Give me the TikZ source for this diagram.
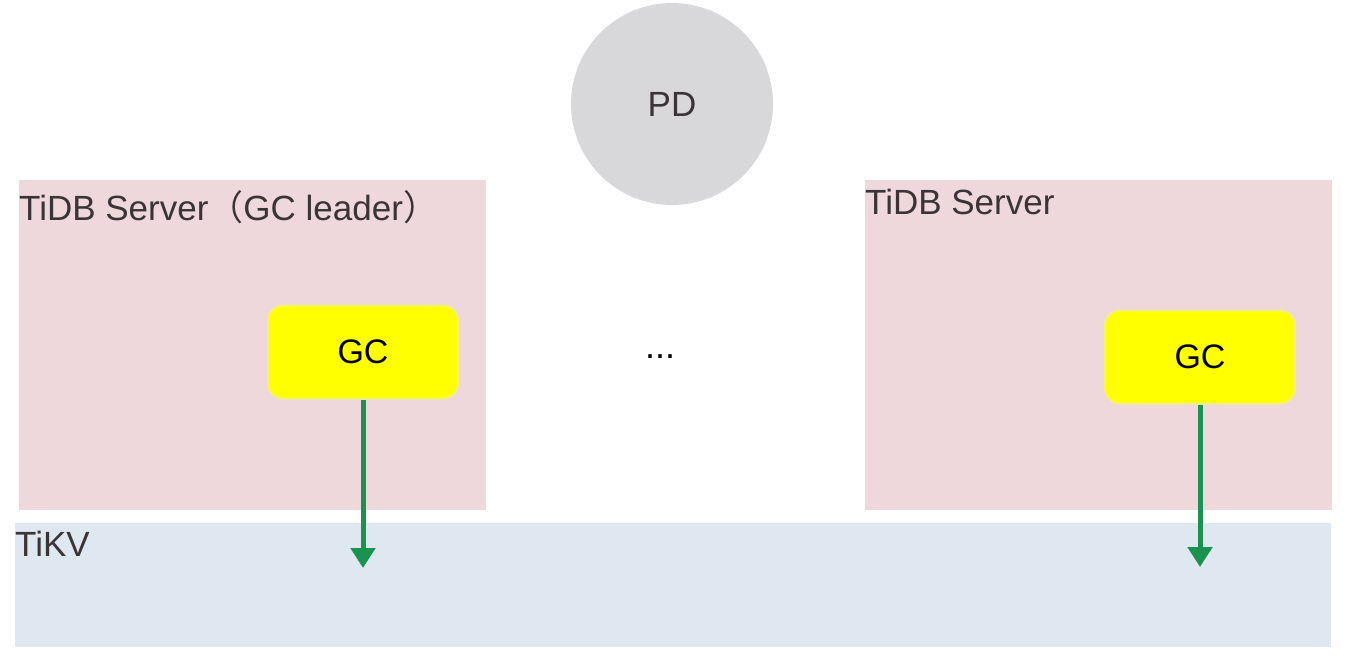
\documentclass[tikz,border=0pt]{standalone}
\usepackage{fontspec}
\setmainfont{Liberation Sans}
\newfontfamily\cjkf{Noto Sans CJK SC}
\usetikzlibrary{arrows.meta}
\definecolor{pinkbg}{HTML}{EFD8DB}
\definecolor{bluebg}{HTML}{DFE7F1}
\definecolor{pdgray}{HTML}{D8D7D9}
\definecolor{txtgray}{HTML}{3A3436}
\definecolor{gcedge}{HTML}{F4F07A}
\definecolor{gcyellow}{HTML}{FFFF00}
\definecolor{arrgreen}{HTML}{1B9350}
\begin{document}
\begin{tikzpicture}[x=1pt,y=-1pt,
  server/.style={fill=pinkbg,draw=none},
  lbl/.style={anchor=base west,inner sep=0pt,text=txtgray,font=\fontsize{35}{40}\selectfont},
  gcbox/.style={fill=gcyellow,draw=gcedge,line width=2pt,rounded corners=15pt,minimum width=190pt,minimum height=93pt,font=\fontsize{34}{38}\selectfont,text=black},
  gcarrow/.style={draw=arrgreen,line width=5pt,-{Triangle[length=20pt,width=24pt]}}]
\useasboundingbox (0,0) rectangle (1361,659);
\fill[white] (0,0) rectangle (1361,659);
% boxes
\node[server,anchor=north west,minimum width=467pt,minimum height=330pt,inner sep=0pt] (left) at (19,180) {};
\node[server,anchor=north west,minimum width=467pt,minimum height=330pt,inner sep=0pt] (right) at (865,180) {};
\node[fill=bluebg,anchor=north west,minimum width=1316pt,minimum height=124pt,inner sep=0pt] (tikv) at (15,523) {};
\node[circle,fill=pdgray,minimum size=202pt,inner sep=0pt,text=txtgray,font=\fontsize{35}{38}\selectfont] (pd) at (672,104) {PD};
% labels
\node[lbl] (lt) at (19,220) {TiDB Server{\cjkf （}GC leader{\cjkf ）}};
\node[lbl] (rt) at (865,214) {TiDB Server};
\node[lbl] (kt) at (15,556) {TiKV};
\node[text=black,anchor=base,inner sep=0pt,font=\fontsize{36}{40}\selectfont] (dots) at (660,358) {...};
% GC boxes
\node[gcbox] (gc1) at (363,352) {GC};
\node[gcbox] (gc2) at (1200,357) {GC};
\coordinate (e1) at (363,568);
\coordinate (e2) at (1200,567);
\draw[gcarrow] (gc1.south) -- (e1);
\draw[gcarrow] (gc2.south) -- (e2);
\end{tikzpicture}
\end{document}
